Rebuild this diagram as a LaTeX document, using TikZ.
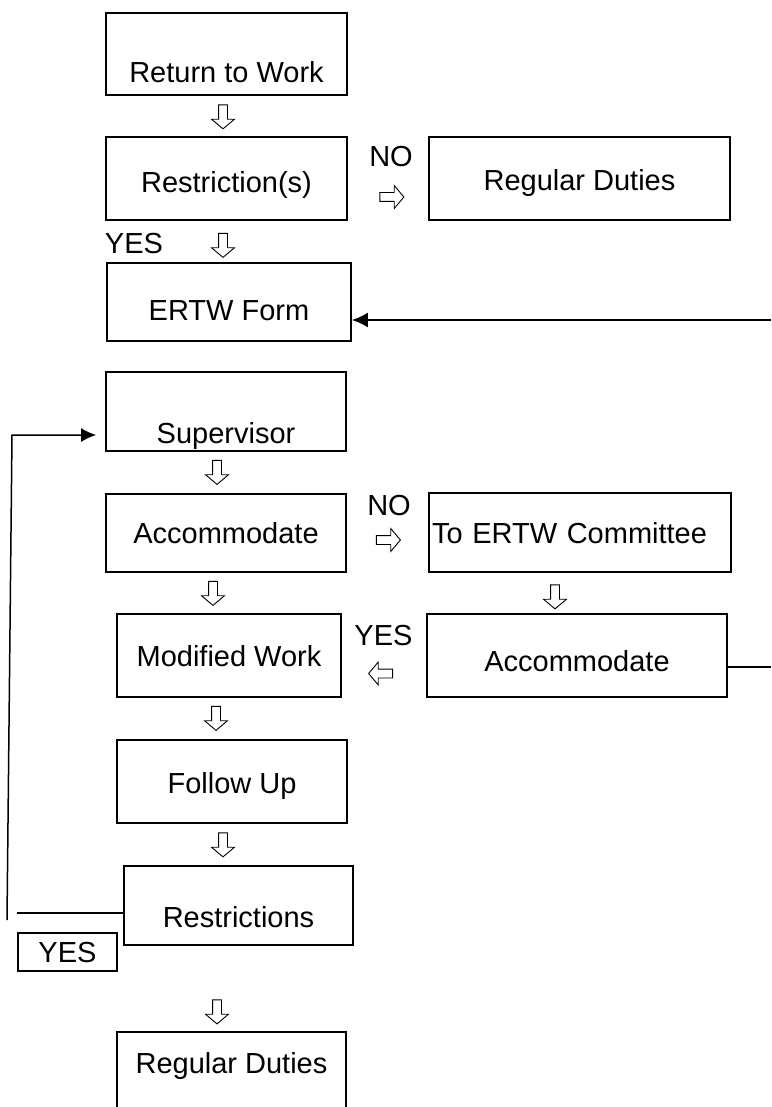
\documentclass[tikz,border=0pt]{standalone}
\usepackage{fontspec}
\setmainfont{Liberation Sans}
\usetikzlibrary{shapes.arrows,arrows.meta}

\tikzset{
  box/.style={draw, line width=1.8pt, inner sep=0pt, text height=21pt, text depth=0pt},
  lab/.style={inner sep=0pt, text height=21pt, text depth=0pt},
  hollow/.style={draw, single arrow, line width=0.9pt, inner sep=4pt,
    minimum height=24pt, minimum width=22pt,
    single arrow head extend=7pt, single arrow tip angle=100},
  conn/.style={line width=1.5pt},
}

\begin{document}
\begin{tikzpicture}[x=1pt, y=-1pt, every node/.style={font=\fontsize{29}{34}\selectfont}]
    \clip (0,0) rectangle (771,1107);

    % left column
    \node[box, minimum width=241pt, minimum height=82pt, text height=57pt] (rtw) at (226.5,54) {Return to Work};
    \node[box, minimum width=241pt, minimum height=83pt, text height=28pt] (restr) at (226.5,178.5) {Restriction(s)};
    \node[box, minimum width=244pt, minimum height=78pt, text height=37pt] (ertw) at (229,302) {ERTW Form};
    \node[box, minimum width=240pt, minimum height=79pt, text height=64pt] (sup) at (226,411.5) {Supervisor};
    \node[box, minimum width=240pt, minimum height=78pt] (acc) at (226,533) {Accommodate};
    \node[box, minimum width=224pt, minimum height=83pt] (mod) at (229,655.5) {Modified Work};
    \node[box, minimum width=230pt, minimum height=83pt, text height=24pt] (fol) at (232,781.5) {Follow Up};
    \node[box, minimum width=229pt, minimum height=79pt, text height=44pt] (rst) at (238.5,905.5) {Restrictions};
    \node[box, minimum width=229pt, minimum height=82pt, text depth=20pt] (reg2) at (231.5,1073) {Regular Duties};

    % right column
    \node[box, minimum width=301pt, minimum height=83pt, text height=24pt] (reg1) at (579.5,178.5) {Regular Duties};
    \node[box, minimum width=302pt, minimum height=79pt, text width=296pt, align=left] (comm) at (580,532.5) {To ERTW Committee};
    \node[box, minimum width=300pt, minimum height=83pt, text height=32pt] (acc2) at (577,655.5) {Accommodate};

    % answers
    \node[lab] (no1) at (391,156) {NO};
    \node[lab] (no2) at (389,505) {NO};
    \node[lab] (yes1) at (134,243) {YES};
    \node[lab] (yes2) at (383.5,635) {YES};
    \node[box, minimum width=99pt, minimum height=38pt] (yes3) at (67.5,952) {YES};

    % hollow arrows
    \foreach \x/\y [count=\i] in {223/115, 223/243.5, 217/470.5, 213/591.5, 216/716.5, 223/843, 217/1010, 555/595}
      \node[hollow, shape border rotate=270] (dn\i) at (\x,\y) {};
    \node[hollow] (rt1) at (390,197) {};
    \node[hollow] (rt2) at (386.5,540) {};
    \node[hollow, shape border rotate=180] (lt1) at (382.5,673.5) {};

    % loop lines
    \coordinate (rin) at (771,320);
    \coordinate (rout) at (771,667);
    \coordinate (ltop) at (12,435);
    \coordinate (lbot) at (7,920);
    \coordinate (rl) at (17,913);
    \draw[conn, -{Latex[length=16pt,width=15pt]}] (rin) -- (rin -| ertw.east);
    \draw[conn] (rout -| acc2.east) -- (rout);
    \draw[conn, -{Latex[length=15pt,width=14pt]}, shorten >=9pt] (lbot) -- (ltop) -- (ltop -| sup.west);
    \draw[conn] (rl) -- (rl -| rst.west);
\end{tikzpicture}
\end{document}
